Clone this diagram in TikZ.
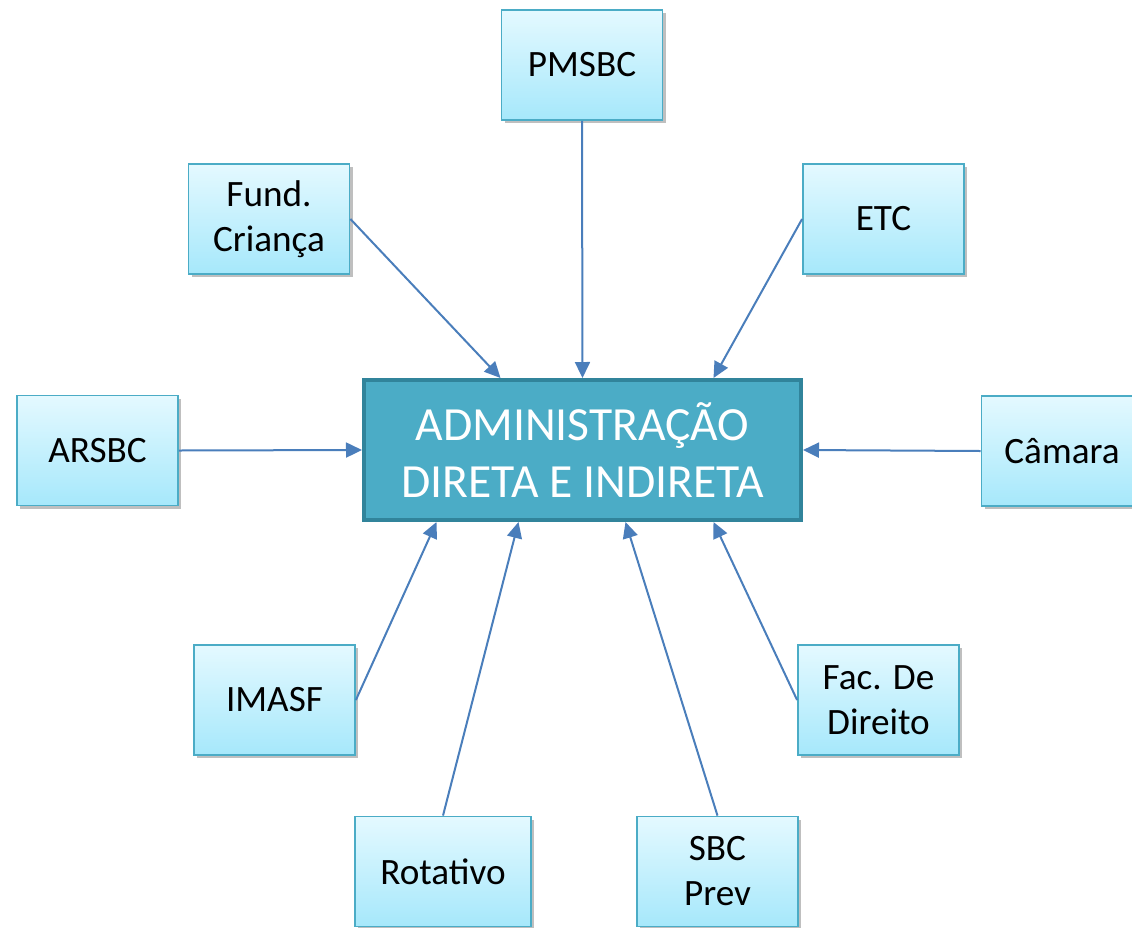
\documentclass[tikz,border=0pt]{standalone}
\usepackage{fontspec}
\setmainfont{Carlito}
\usetikzlibrary{arrows.meta,shadows,calc}
\definecolor{boxtop}{HTML}{E4F9FF}
\definecolor{boxbot}{HTML}{A6E8FB}
\definecolor{boxline}{HTML}{4BACC6}
\definecolor{mainfill}{HTML}{4BACC6}
\definecolor{mainline}{HTML}{31849B}
\definecolor{linkcol}{HTML}{4A7EBB}
\tikzset{
  unit/.style = {draw=boxline, line width=0.9pt, top color=boxtop, bottom color=boxbot,
    minimum width=80.5pt, minimum height=55pt, align=center, font=\fontsize{18.6}{22.5}\selectfont,
    drop shadow={shadow xshift=1.5pt, shadow yshift=-1.5pt, opacity=0.25, fill=black}},
  link/.style = {draw=linkcol, line width=1pt, -{Triangle[length=8pt,width=7.5pt]}}
}
\begin{document}
\begin{tikzpicture}[x=0.5pt, y=-0.5pt]
\useasboundingbox (0,0) rectangle (1132,928);
% central box
\node[draw=mainline, line width=2pt, fill=mainfill, text=white, minimum width=218.5pt,
  minimum height=70pt, align=center, font=\fontsize{23.8}{28.5}\selectfont] (adm) at (582.5,450)
  {ADMINISTRAÇÃO\\DIRETA E INDIRETA};
% surrounding boxes
\node[unit] (pmsbc) at (582,65) {PMSBC};
\node[unit] (fund) at (269,219) {Fund.\\Criança};
\node[unit] (etc) at (883.5,219) {ETC};
\node[unit] (arsbc) at (97.5,450.5) {ARSBC};
\node[unit] (camara) at (1062,451) {Câmara};
\node[unit] (imasf) at (274.5,700) {IMASF};
\node[unit] (fac) at (878.5,700) {Fac. De\\Direito};
\node[unit, minimum width=88pt] (rot) at (443,871.5) {Rotativo};
\node[unit] (sbcprev) at (717.5,871.5) {SBC\\Prev};
% links
\draw[link] (pmsbc.south) -- (adm.north);
\draw[link] (fund.east) -- ($(adm.north)+(-82,0)$);
\draw[link] (etc.west) -- ($(adm.north)+(131,0)$);
\draw[link] (arsbc.east) -- (adm.west);
\draw[link] (camara.west) -- (adm.east);
\draw[link] (imasf.east) -- ($(adm.south)+(-146,0)$);
\draw[link] (rot.north) -- ($(adm.south)+(-64,0)$);
\draw[link] (sbcprev.north) -- ($(adm.south)+(43,0)$);
\draw[link] (fac.west) -- ($(adm.south)+(131,0)$);
\end{tikzpicture}
\end{document}
